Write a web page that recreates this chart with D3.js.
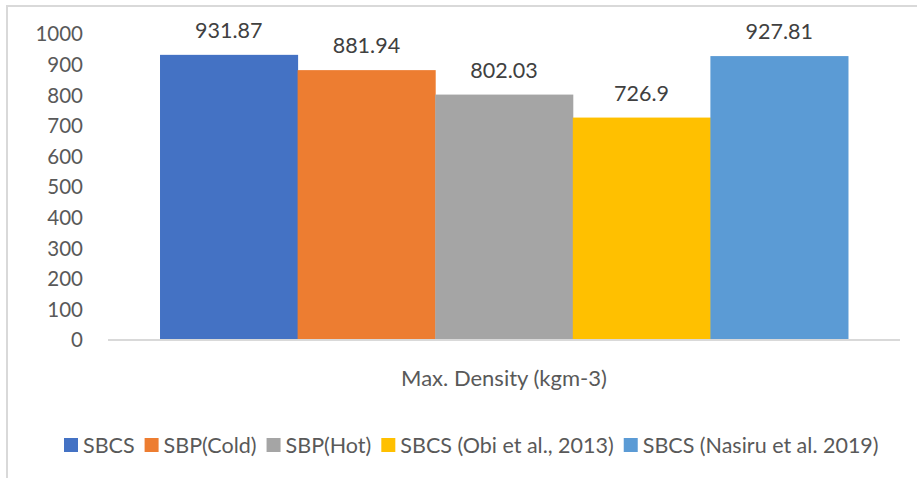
<!DOCTYPE html>
<html><head><meta charset="utf-8">
<script src="https://cdn.jsdelivr.net/npm/d3@7"></script>
<style>body{margin:0;background:#fff}svg{display:block}text{font-family:Lato,"Open Sans",sans-serif}</style>
</head><body><svg id="c" width="917" height="478"></svg>
<script>
const category = ["Max. Density (kgm-3)"];
const seriesNames = ["SBCS","SBP(Cold)","SBP(Hot)","SBCS (Obi et al., 2013)","SBCS (Nasiru et al. 2019)"];
const seriesValues = [931.87, 881.94, 802.03, 726.9, 927.81];
const valueLabels = ["931.87","881.94","802.03","726.9","927.81"];
const colors = ["#4472C4","#ED7D31","#A5A5A5","#FFC000","#5B9BD5"];
const yTicks = [0,100,200,300,400,500,600,700,800,900,1000];

const svg = d3.select("#c");
// frame
svg.append("path").attr("d","M7,478V6H917").attr("fill","none").attr("stroke","#d9d9d9").attr("stroke-width",2);

const x0 = d3.scaleBand().domain(category).range([108,900]).paddingInner(0).paddingOuter(0);
const x1 = d3.scaleBand().domain(seriesNames).range([0,x0.bandwidth()]).paddingOuter(0.378).paddingInner(0);
const y = d3.scaleLinear().domain([0,1000]).range([340,34]);

// y tick labels
svg.append("g").selectAll("text").data(yTicks).join("text")
  .attr("x",83).attr("y",d=>y(d)).attr("dy","0.36em").attr("text-anchor","end")
  .attr("fill","#595959").style("font-size","20.5px").text(d=>d);

// bars
const g = svg.append("g").attr("transform",`translate(${x0(category[0])},0)`);
g.selectAll("rect").data(seriesValues).join("rect")
  .attr("x",(d,i)=>x1(seriesNames[i])).attr("width",x1.bandwidth()+0.5)
  .attr("y",d=>y(d)).attr("height",d=>y(0)-y(d)).attr("fill",(d,i)=>colors[i]);

// data labels
g.selectAll("text").data(seriesValues).join("text")
  .attr("x",(d,i)=>x1(seriesNames[i])+x1.bandwidth()/2).attr("y",d=>y(d)-17)
  .attr("text-anchor","middle").attr("fill","#404040").style("font-size","21.5px")
  .text((d,i)=>valueLabels[i]);

// baseline
svg.append("line").attr("x1",108).attr("x2",900).attr("y1",340).attr("y2",340)
  .attr("stroke","#d9d9d9").attr("stroke-width",2);

// category label
svg.append("text").attr("x",x0(category[0])+x0.bandwidth()/2).attr("y",386)
  .attr("text-anchor","middle").attr("fill","#595959").style("font-size","22px").text(category[0]);

// legend
const leg = svg.append("g");
let lx = 64;
seriesNames.forEach((n,i)=>{
  leg.append("rect").attr("x",lx).attr("y",438).attr("width",14).attr("height",14).attr("fill",colors[i]);
  const t = leg.append("text").attr("x",lx+19).attr("y",445).attr("dy","0.36em")
    .attr("fill","#595959").style("font-size","21.5px").text(n);
  lx += 19 + t.node().getComputedTextLength() + 10;
});
</script></body></html>
